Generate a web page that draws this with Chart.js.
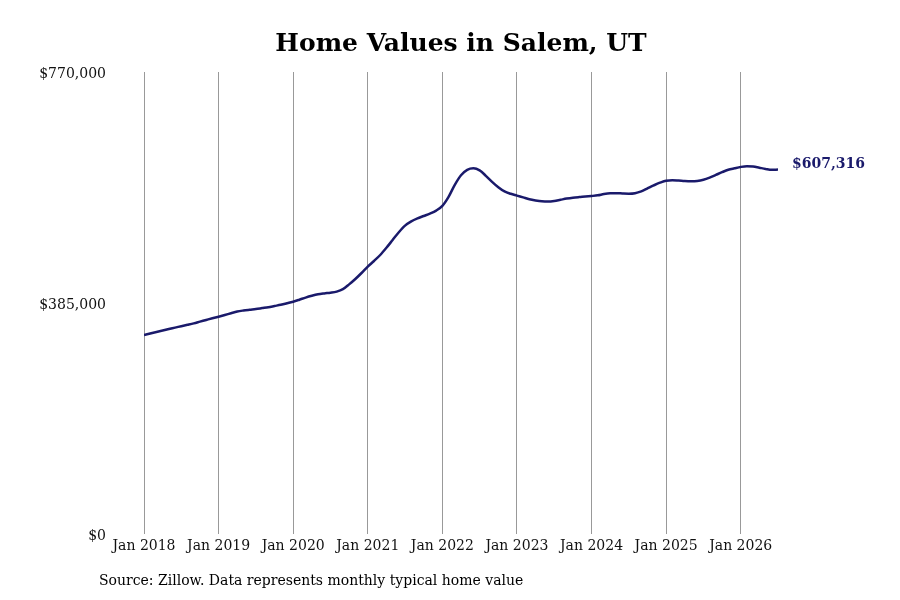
<!DOCTYPE html>
<html>
<head>
<meta charset="utf-8">
<script src="https://cdn.jsdelivr.net/npm/chart.js@4.4.1/dist/chart.umd.min.js"></script>
<style>
  html, body { margin: 0; padding: 0; background: #fff; }
  #wrap { width: 900px; height: 600px; }
</style>
</head>
<body>
<div id="wrap"><canvas id="homeChart"></canvas></div>
<script>
// Monthly typical home value, Jan 2018 .. Jul 2026
const startYear = 2018;
const homeValues = [
  // 2018
  331700, 334200, 336700, 339200, 341700, 344000, 346400, 348700, 351100, 353900, 356700, 359500,
  // 2019
  362200, 365000, 368000, 370800, 372500, 373800, 375000, 376500, 378000, 380000, 382000, 384500,
  // 2020
  387200, 390500, 394000, 397000, 399500, 401000, 402200, 404000, 408000, 416000, 425000, 435000,
  // 2021
  445500, 455000, 465000, 477000, 490000, 503000, 514000, 521000, 526000, 530000, 534000, 539000,
  // 2022
  547000, 562000, 582000, 598000, 607000, 609500, 606000, 597000, 587000, 578000, 571000, 567000,
  // 2023
  564000, 561000, 558000, 556000, 554500, 554000, 555000, 557000, 559000, 560500, 561500, 562300,
  // 2024
  563300, 564500, 566500, 567800, 568000, 567500, 567200, 568000, 571000, 576000, 581000, 585500,
  // 2025
  588900, 589500, 589000, 588300, 588000, 588500, 590500, 594000, 598500, 603000, 607000, 609500,
  // 2026
  611800, 613000, 612500, 610500, 608500, 607000, 607316
];
const tickYears = [2018, 2019, 2020, 2021, 2022, 2023, 2024, 2025, 2026];
const yTicks = [0, 385000, 770000];

const titleText = "Home Values in Salem, UT";
const sourceText = "Source: Zillow. Data represents monthly typical home value";
const lineColor = "#1a1a6b";
const serif = "'DejaVu Serif', 'Liberation Serif', serif";

const money = (v) => "$" + Math.round(v).toLocaleString("en-US");

// title, source note and end-of-line value label
const extras = {
  id: "extras",
  afterDraw(chart) {
    const { ctx, chartArea, scales } = chart;
    ctx.save();
    ctx.fillStyle = "#000";
    ctx.font = "bold 25px " + serif;
    ctx.textAlign = "center";
    ctx.textBaseline = "middle";
    ctx.fillText(titleText, (chartArea.left + chartArea.right) / 2, 44);

    ctx.font = "14px " + serif;
    ctx.textAlign = "left";
    ctx.fillText(sourceText, 99, 581);

    const last = homeValues.length - 1;
    const px = scales.x.getPixelForValue(last);
    const py = scales.y.getPixelForValue(homeValues[last]);
    ctx.fillStyle = lineColor;
    ctx.font = "bold 14px " + serif;
    ctx.fillText(money(homeValues[last]), px + 14, py - 5);
    ctx.restore();
  },
};

new Chart(document.getElementById("homeChart"), {
  type: "line",
  data: {
    datasets: [
      {
        data: homeValues.map((v, i) => ({ x: i, y: v })),
        borderColor: lineColor,
        borderWidth: 2.5,
        pointRadius: 0,
        fill: false,
        cubicInterpolationMode: "monotone",
      },
    ],
  },
  options: {
    responsive: true,
    maintainAspectRatio: false,
    animation: false,
    layout: { padding: { top: 72, right: 122, bottom: 46, left: 0 } },
    plugins: { legend: { display: false }, title: { display: false }, tooltip: { enabled: false } },
    scales: {
      x: {
        type: "linear",
        min: 0,
        max: homeValues.length - 1,
        afterBuildTicks: (scale) => {
          scale.ticks = tickYears.map((y) => ({ value: (y - startYear) * 12 }));
        },
        afterFit: (scale) => { scale.height = 20; },
        ticks: {
          callback: (v) => "Jan " + (startYear + v / 12),
          font: { family: serif, size: 14 },
          color: "#111",
          padding: 4,
          maxRotation: 0,
          autoSkip: false,
        },
        grid: { color: "#999", lineWidth: 1, drawTicks: false },
        border: { display: false },
      },
      y: {
        min: 0,
        max: 770000,
        afterBuildTicks: (scale) => {
          scale.ticks = yTicks.map((v) => ({ value: v }));
        },
        afterFit: (scale) => { scale.width = 144; },
        ticks: {
          callback: (v) => money(v),
          font: { family: serif, size: 14 },
          color: "#111",
          padding: 38,
          labelOffset: 2,
        },
        grid: { display: false, drawTicks: false },
        border: { display: false },
      },
    },
  },
  plugins: [extras],
});
</script>
</body>
</html>
